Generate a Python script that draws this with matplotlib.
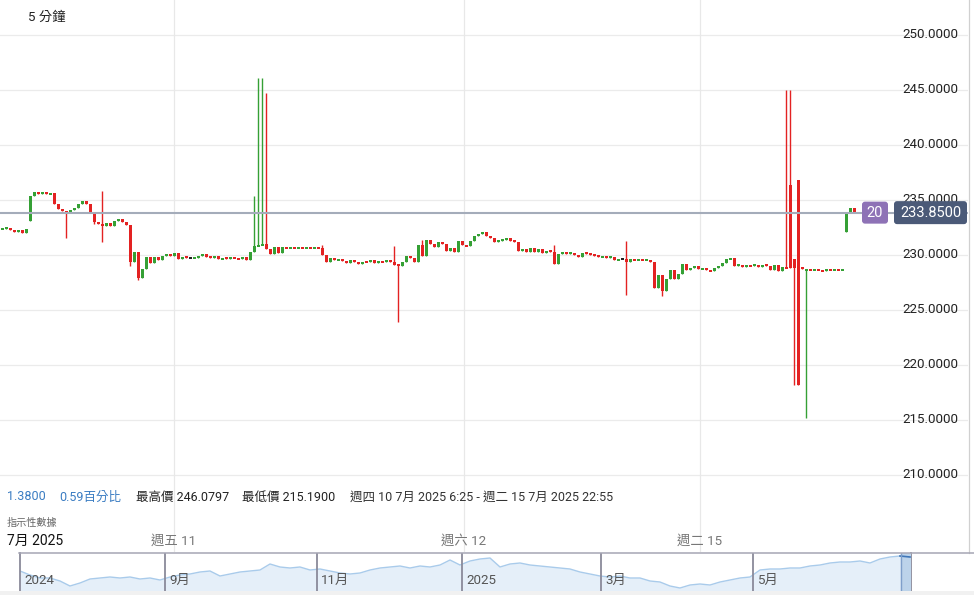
import matplotlib
matplotlib.use('Agg')
import matplotlib.pyplot as plt
from matplotlib.patches import FancyBboxPatch, Rectangle
from matplotlib.lines import Line2D
from matplotlib.transforms import IdentityTransform
import numpy as np

# ---------------- data ----------------
first_open = 232.35
closes = [
    232.40, 232.45, 232.30, 232.10, 232.30, 232.00, 232.40, 235.40, 235.70, 235.55,
    235.70, 235.50, 235.60, 234.60, 234.20, 234.00, 233.90, 234.10, 234.30, 234.60,
    234.90, 234.60, 233.80, 233.00, 232.80, 232.60, 232.90, 232.60, 233.10, 233.30,
    233.00, 232.70, 229.40, 230.30, 227.90, 228.70, 229.80, 229.30, 229.80, 229.50,
    229.90, 230.10, 229.90, 230.15, 229.60, 229.85, 229.70, 229.70, 229.75, 229.90,
    230.10, 229.85, 229.70, 229.90, 229.60, 229.75, 229.65, 229.80, 229.70, 229.60,
    229.80, 229.50, 230.30, 230.80, 230.90, 231.00, 230.50, 230.10, 230.70, 230.20,
    230.70, 230.60, 230.70, 230.60, 230.70, 230.60, 230.70, 230.65, 230.70, 230.60,
    230.00, 229.40, 229.70, 229.50, 229.60, 229.45, 229.30, 229.50, 229.40, 229.20,
    229.40, 229.35, 229.50, 229.30, 229.45, 229.35, 229.50, 229.40, 229.10, 229.00,
    229.40, 229.90, 229.70, 229.40, 230.90, 229.90, 231.40, 231.00, 230.70, 231.20,
    231.00, 230.40, 230.60, 230.30, 231.30, 230.90, 230.80, 231.30, 231.70, 231.90,
    232.10, 231.70, 231.50, 231.20, 231.30, 231.40, 231.50, 231.30, 231.20, 230.40,
    230.50, 230.30, 230.60, 230.30, 230.50, 230.20, 230.40, 230.30, 229.20, 230.10,
    230.20, 230.10, 230.20, 230.00, 229.80, 230.20, 230.10, 230.00, 229.95, 229.80,
    229.90, 229.75, 229.80, 229.50, 229.60, 229.60, 229.40, 229.60, 229.50, 229.60,
    229.50, 229.55, 229.40, 227.00, 228.20, 226.70, 227.80, 228.60, 227.80, 228.30,
    229.20, 228.60, 228.80, 229.00, 228.70, 228.80, 228.65, 228.50, 228.80, 229.00,
    229.30, 229.60, 229.70, 229.00, 229.10, 228.95, 229.05, 229.00, 229.10, 228.95,
    229.10, 229.00, 228.60, 229.10, 228.50, 228.90, 228.80, 228.80, 228.80, 218.20,
    228.75, 228.70, 228.65, 228.70, 228.60, 228.50, 228.70, 228.60, 228.70, 228.60,
    228.75, 233.90, 234.30, 233.85,
]
gap_open_idx = [7, 196, 197, 198, 199, 200, 201, 211]
gap_open_val = [233.10, 228.90, 236.40, 229.60, 236.80, 228.80, 228.60, 232.10]
high_idx = [25, 63, 64, 65, 66, 80, 98, 105, 138, 156, 196, 197, 199]
high_val = [235.85, 235.40, 246.0797, 246.0797, 244.75, 230.90, 230.80, 231.40,
            230.90, 231.30, 245.00, 245.00, 236.80]
low_idx = [16, 23, 25, 32, 34, 99, 156, 165, 198, 199, 201]
low_val = [231.50, 232.80, 231.20, 229.00, 227.70, 223.90, 226.40, 226.30,
           218.20, 218.20, 215.19]
last_price = 233.85
change_text = '1.3800'
change_pct_text = '0.59百分比'
range_text = '週四 10 7月 2025 6:25 - 週二 15 7月 2025 22:55'
y_ticks = [210, 215, 220, 225, 230, 235, 240, 245, 250]
day_labels = ['週五 11', '週六 12', '週二 15']
day_pos = [43, 115.5, 174.5]

nav_values = [
    20, 16, 13, 13, 10, 5, 8, 12, 13, 14, 13, 14, 12, 13, 11, 14, 16, 17, 19, 20,
    15, 17, 19, 20, 21, 27, 24, 23, 24, 21, 22, 20, 18, 17, 18, 21, 23, 24, 25, 23,
    25, 24, 26, 31, 26, 30, 32, 33, 24, 27, 28, 26, 25, 24, 23, 22, 19, 17, 15, 14,
    15, 13, 13, 10, 9, 5, 3, 6, 7, 6, 9, 11, 13, 14, 21, 22, 22, 23, 23, 25,
    26, 28, 29, 29, 30, 28, 32, 34, 35, 34,
]
nav_month_labels = ['2024', '9月', '11月', '2025', '3月', '5月']
nav_month_pos = [0.0, 14.5, 29.7, 44.2, 58.1, 73.3]
nav_sel = (88.1, 89.1)

# ---------------- style ----------------
plt.rcParams['font.family'] = ['Roboto', 'Noto Sans CJK TC', 'DejaVu Sans']
W, H = 974, 595
fig = plt.figure(figsize=(W / 100, H / 100), dpi=100)
fig.patch.set_facecolor('white')


def fx(px):
    return px / W


def fy(py):
    return 1 - py / H


GREEN = '#35a035'
RED = '#e32222'
BLACK = '#222222'

ax = fig.add_axes([0, fy(552), fx(968), 552 / H])
ax.set_xlim(-0.5, 241.5)
ax.set_ylim(203.0, 253.18)
ax.axis('off')

for v in y_ticks:
    ax.axhline(v, color='#ebebeb', lw=0.9, zorder=0)
    ax.text(958 / 968, v, f'{v:.4f}', transform=ax.get_yaxis_transform(),
            ha='right', va='center', fontsize=9.6, color='#222222', zorder=5)
for p in day_pos:
    ax.axvline(p, color='#e8e8e8', lw=0.9, zorder=0)

# candles
n = len(closes)
opens = [first_open] + closes[:-1]
for i, v in zip(gap_open_idx, gap_open_val):
    opens[i] = v
opens = np.array(opens)
cl = np.array(closes)
highs = np.maximum(opens, cl)
lows = np.minimum(opens, cl)
for i, v in zip(high_idx, high_val):
    highs[i] = v
for i, v in zip(low_idx, low_val):
    lows[i] = v
cols = [GREEN if c > o else (RED if c < o else BLACK) for o, c in zip(opens, cl)]
idx = np.arange(n)
ax.vlines(idx, lows, highs, colors=cols, lw=1.0, zorder=2)
minh = 0.18
body = np.abs(cl - opens)
mid = (cl + opens) / 2
hgt = np.maximum(body, minh)
bot = mid - hgt / 2
ax.bar(idx, hgt, bottom=bot, width=0.75, color=cols, lw=0, zorder=3)

# last price line
ax.axhline(last_price, color='#a4acba', lw=1.5, zorder=4)

# boxes
fig.canvas.draw()
yd = ax.transData.transform((0, last_price))[1]
b1 = FancyBboxPatch((862, yd - 11), 26, 22, boxstyle='round,pad=0,rounding_size=3',
                    transform=IdentityTransform(), facecolor='#8e72b6', edgecolor='none', zorder=6)
b2 = FancyBboxPatch((894, yd - 11.5), 73, 23, boxstyle='round,pad=0,rounding_size=3',
                    transform=IdentityTransform(), facecolor='#4b5a78', edgecolor='none', zorder=6)
fig.add_artist(b1)
fig.add_artist(b2)
fig.text(875, yd, '20', transform=IdentityTransform(), ha='center', va='center',
         color='white', fontsize=10.5, zorder=7)
fig.text(930.5, yd, f'{last_price:.4f}', transform=IdentityTransform(), ha='center',
         va='center', color='white', fontsize=10.5, zorder=7)

# texts
fig.text(fx(28), fy(17), '5 分鐘', fontsize=9.6, va='center', color='#222222')
hi = float(np.max(highs))
lo = float(np.min(lows))
fig.text(fx(7), fy(497), change_text, fontsize=9, va='center', color='#3a7cc2')
fig.text(fx(59), fy(497), change_pct_text, fontsize=9, va='center', color='#3a7cc2')
fig.text(fx(136), fy(497), f'最高價 {hi:.4f}', fontsize=9, va='center', color='#222222')
fig.text(fx(242), fy(497), f'最低價 {lo:.4f}', fontsize=9, va='center', color='#222222')
fig.text(fx(350), fy(497), range_text, fontsize=9, va='center', color='#333333')
fig.text(fx(7), fy(523), '指示性數據', fontsize=7.3, va='center', color='#666666')
fig.text(fx(7), fy(541), '7月 2025', fontsize=10, va='center', color='#111111')
for p, lab in zip(day_pos, day_labels):
    ax.text(p, (552 - 541) / 552, lab, transform=ax.get_xaxis_transform(),
            ha='center', va='center', fontsize=9.6, color='#777777')

# right border
fig.add_artist(Line2D([fx(969), fx(969)], [fy(0), fy(553)], color='#d0d0d0', lw=0.9))

# navigator
nav = fig.add_axes([fx(20), fy(591), fx(911 - 20), 38 / H])
nav.set_xlim(0, 89.1)
nav.set_ylim(0, 38)
kx = np.arange(len(nav_values))
nav.fill_between(kx, nav_values, 0, color='#e5eff9', lw=0, zorder=1)
nav.plot(kx, nav_values, color='#a9cbeb', lw=1.0, zorder=2)
nav.axvspan(nav_sel[0], nav_sel[1], color='#bcd3ea', zorder=3)
nav.plot(kx[88:], nav_values[88:], color='#3f76b8', lw=1.2, zorder=4)
nav.axvline(nav_sel[0], color='#7f9fca', lw=1.0, zorder=4)
for p in nav_month_pos[1:]:
    nav.axvline(p, color='#8a8a9a', lw=1.3, zorder=5)
for p, lab in zip(nav_month_pos, nav_month_labels):
    nav.text(p + 0.4, 11, lab, ha='left', va='center', fontsize=9.6, color='#555555', zorder=6)
nav.set_xticks([])
nav.set_yticks([])
for s in ['top', 'bottom']:
    nav.spines[s].set_visible(False)
for s in ['left', 'right']:
    nav.spines[s].set_color('#8a8a9a')
    nav.spines[s].set_linewidth(1.3)
nav.patch.set_alpha(0)

fig.add_artist(Line2D([fx(19), 1], [fy(553), fy(553)], color='#a6a6b4', lw=1.1))
fig.add_artist(Rectangle((0, 0), 1, 4 / H, transform=fig.transFigure,
                         facecolor='#f1f1f1', edgecolor='none'))

fig.savefig('out.png', dpi=100)
